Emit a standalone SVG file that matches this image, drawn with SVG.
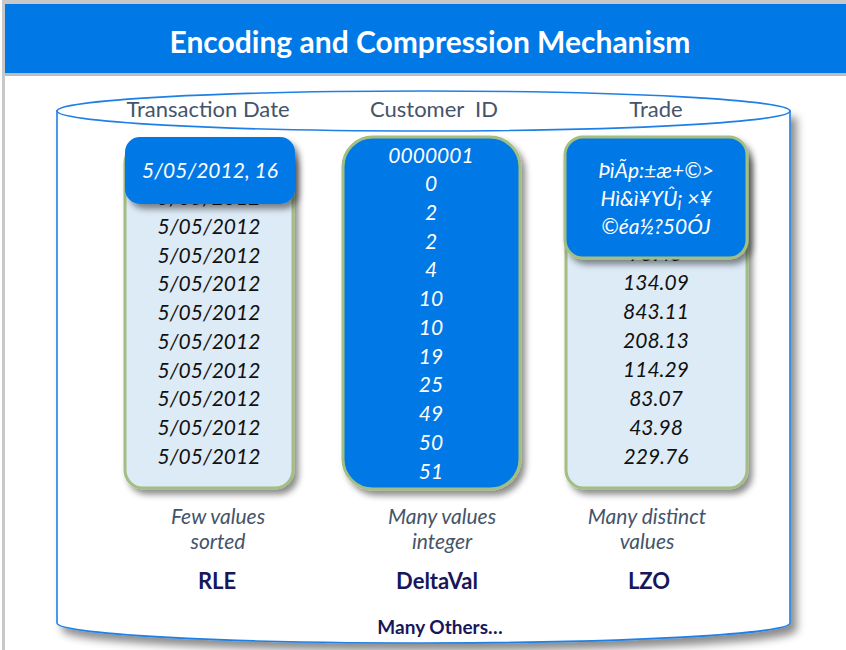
<svg xmlns="http://www.w3.org/2000/svg" width="846" height="650" viewBox="0 0 846 650">
  <defs>
    <filter id="shadow" x="-10%" y="-10%" width="130%" height="130%">
      <feDropShadow dx="4" dy="5" stdDeviation="3" flood-color="#000" flood-opacity="0.45"/>
    </filter>
    <filter id="cylShadow" x="-5%" y="-5%" width="115%" height="115%">
      <feDropShadow dx="6" dy="7" stdDeviation="4" flood-color="#000" flood-opacity="0.45"/>
    </filter>
  </defs>
  <style>
    .title { font-family: Lato, "Liberation Sans", sans-serif; font-weight: bold; font-size: 30px; fill: #ffffff; text-anchor: middle; }
    .head { font-family: Lato, "Liberation Sans", sans-serif; font-size: 22px; fill: #44546A; text-anchor: middle; }
    .row { font-family: Lato, "Liberation Sans", sans-serif; font-style: italic; font-size: 21px; fill: #111111; text-anchor: middle; }
    .rowW { font-family: Lato, "Liberation Sans", sans-serif; font-style: italic; font-size: 21px; fill: #ffffff; text-anchor: middle; }
    .enc { font-family: Lato, "Liberation Sans", sans-serif; font-style: italic; font-size: 21px; fill: #ffffff; text-anchor: middle; }
    .note { font-family: Lato, "Liberation Sans", sans-serif; font-style: italic; font-size: 21px; fill: #44546A; text-anchor: middle; }
    .algo { font-family: Lato, "Liberation Sans", sans-serif; font-weight: bold; font-size: 22px; fill: #17175A; text-anchor: middle; }
    .others { font-family: Lato, "Liberation Sans", sans-serif; font-weight: bold; font-size: 19px; fill: #17175A; text-anchor: middle; }
    .light { fill: #DDEBF7; stroke: #A3BE83; stroke-width: 3; }
    .blue { fill: #0078E6; stroke: #A3BE83; stroke-width: 3; }
    .cyl { fill: #ffffff; stroke: #1E80E6; stroke-width: 1.6; }
  </style>

  <!-- page frame -->
  <rect x="0" y="0" width="846" height="650" fill="#ffffff"/>
  <rect x="2" y="0" width="3" height="650" fill="#C8C8C8"/>
  <rect x="2" y="0" width="844" height="4" fill="#C8C8C8"/>

  <!-- title band -->
  <g id="title">
    <rect x="5" y="4" width="841" height="70" fill="#0078E6"/>
    <rect x="5" y="73" width="841" height="3" fill="#BDBDBD"/>
    <text class="title" x="430" y="53">Encoding and Compression Mechanism</text>
  </g>

  <!-- storage cylinder -->
  <g id="cylinder">
    <path class="cyl" filter="url(#cylShadow)" d="M57,111 L57,623 A366.5,20 0 0 0 790,623 L790,111 Z"/>
    <ellipse class="cyl" cx="423.5" cy="111" rx="366.5" ry="20"/>
    <text class="head" x="208" y="117">Transaction Date</text>
    <text class="head" x="434" y="117" xml:space="preserve">Customer  ID</text>
    <text class="head" x="656" y="117">Trade</text>
  </g>

  <!-- Transaction Date column (RLE) -->
  <g id="col-date">
    <rect class="light" filter="url(#shadow)" x="125" y="145" width="168" height="343" rx="18"/>
    <text class="row" x="209" y="205">5/05/2012</text>
    <text class="row" x="209" y="234">5/05/2012</text>
    <text class="row" x="209" y="263">5/05/2012</text>
    <text class="row" x="209" y="291">5/05/2012</text>
    <text class="row" x="209" y="320">5/05/2012</text>
    <text class="row" x="209" y="349">5/05/2012</text>
    <text class="row" x="209" y="378">5/05/2012</text>
    <text class="row" x="209" y="406">5/05/2012</text>
    <text class="row" x="209" y="435">5/05/2012</text>
    <text class="row" x="209" y="464">5/05/2012</text>
  </g>
  <g id="enc-date">
    <rect fill="#0078E6" filter="url(#shadow)" x="125" y="137" width="170" height="67" rx="15"/>
    <text class="rowW" x="210" y="178">5/05/2012, 16</text>
  </g>

  <!-- Customer ID column (DeltaVal) -->
  <g id="col-customer">
    <rect class="blue" filter="url(#shadow)" x="343" y="137" width="177" height="352" rx="30"/>
    <text class="rowW" x="431" y="163">0000001</text>
    <text class="rowW" x="431" y="191">0</text>
    <text class="rowW" x="431" y="220">2</text>
    <text class="rowW" x="431" y="249">2</text>
    <text class="rowW" x="431" y="277">4</text>
    <text class="rowW" x="431" y="306">10</text>
    <text class="rowW" x="431" y="335">10</text>
    <text class="rowW" x="431" y="364">19</text>
    <text class="rowW" x="431" y="392">25</text>
    <text class="rowW" x="431" y="421">49</text>
    <text class="rowW" x="431" y="450">50</text>
    <text class="rowW" x="431" y="479">51</text>
  </g>

  <!-- Trade column (LZO) -->
  <g id="col-trade">
    <rect class="light" filter="url(#shadow)" x="566" y="145" width="181" height="343" rx="18"/>
    <text class="row" x="656" y="261">75.45</text>
    <text class="row" x="656" y="290">134.09</text>
    <text class="row" x="656" y="319">843.11</text>
    <text class="row" x="656" y="348">208.13</text>
    <text class="row" x="656" y="377">114.29</text>
    <text class="row" x="656" y="406">83.07</text>
    <text class="row" x="656" y="435">43.98</text>
    <text class="row" x="656" y="464">229.76</text>
  </g>
  <g id="enc-trade">
    <rect class="blue" filter="url(#shadow)" x="565" y="137" width="182" height="121" rx="18"/>
    <text class="enc" x="656" y="178">ÞìÃp:±æ+©&gt;</text>
    <text class="enc" x="656" y="206">Hì&amp;ì¥YÛ¡ ×¥</text>
    <text class="enc" x="656" y="234">©éa½?50ÓJ</text>
  </g>

  <!-- column notes and algorithm names -->
  <g id="labels">
    <text class="note" x="218" y="524">Few values</text>
    <text class="note" x="218" y="549">sorted</text>
    <text class="note" x="442" y="524">Many values</text>
    <text class="note" x="442" y="549">integer</text>
    <text class="note" x="647" y="524">Many distinct</text>
    <text class="note" x="647" y="549">values</text>
    <text class="algo" x="217" y="589">RLE</text>
    <text class="algo" x="437" y="589">DeltaVal</text>
    <text class="algo" x="649" y="589">LZO</text>
    <text class="others" x="440" y="634">Many Others…</text>
  </g>
</svg>
